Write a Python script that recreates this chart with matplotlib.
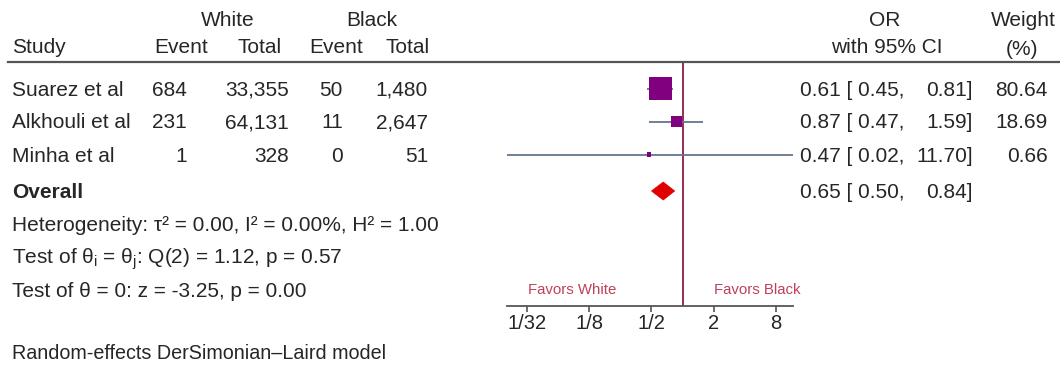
import numpy as np
import matplotlib
matplotlib.use("Agg")
import matplotlib.pyplot as plt
from matplotlib.patches import Polygon
from matplotlib.lines import Line2D
from matplotlib.ticker import NullLocator, FixedLocator, FixedFormatter

plt.rcParams['font.family'] = ['Liberation Sans', 'DejaVu Sans']
plt.rcParams['mathtext.fontset'] = 'custom'
plt.rcParams['mathtext.rm'] = 'Liberation Sans'
plt.rcParams['mathtext.it'] = 'Liberation Sans'
plt.rcParams['mathtext.bf'] = 'Liberation Sans:bold'

# ---------------- data ----------------
studies = ["Suarez et al", "Alkhouli et al", "Minha et al"]
white_event = [684, 231, 1]
white_total = [33355, 64131, 328]
black_event = [50, 11, 0]
black_total = [1480, 2647, 51]
or_est = [0.61, 0.87, 0.47]
ci_low = [0.45, 0.47, 0.02]
ci_high = [0.81, 1.59, 11.70]
weights = [80.64, 18.69, 0.66]
overall_est, overall_low, overall_high = 0.65, 0.50, 0.84
tick_values = [1/32, 1/8, 1/2, 2, 8]
tick_labels = ["1/32", "1/8", "1/2", "2", "8"]
het_text = "Heterogeneity: \u03c4\u00b2 = 0.00, I\u00b2 = 0.00%, H\u00b2 = 1.00"
q_text = r"Test of $\theta_\mathrm{i}$ = $\theta_\mathrm{j}$: Q(2) = 1.12, p = 0.57"
z_text = "Test of \u03b8 = 0: z = -3.25, p = 0.00"
footnote = "Random-effects DerSimonian\u2013Laird model"

# ---------------- layout ----------------
W, H = 1060, 367
fig = plt.figure(figsize=(W / 100, H / 100), dpi=100)
TXT = "#262626"
FS = 15

def fx(px):
    return px / W

def fy(py):
    return 1 - py / H

def put(px, py, s, ha="left", **kw):
    fig.text(fx(px), fy(py), s, ha=ha, va="baseline", color=kw.pop("color", TXT),
             fontsize=kw.pop("fontsize", FS), **kw)

# forest axes geometry: pixel position of OR=1 and px per log2 unit
X_NULL = 682.5
PX_PER = 31.04
lo_lim = min(ci_low)
hi_lim = max(ci_high)
ax_left = X_NULL + PX_PER * np.log2(lo_lim)
ax_right = X_NULL + PX_PER * np.log2(hi_lim)
TOP, BOT = 61.5, 306
ax = fig.add_axes([fx(ax_left), fy(BOT), (ax_right - ax_left) / W, (BOT - TOP) / H])
ax.set_xscale("log", base=2)
ax.set_xlim(lo_lim, hi_lim)
ax.set_ylim(BOT, TOP)
ax.patch.set_alpha(0)
for s in ["top", "left", "right"]:
    ax.spines[s].set_visible(False)
ax.spines["bottom"].set_color("#555555")
ax.spines["bottom"].set_linewidth(1.3)
ax.xaxis.set_major_locator(FixedLocator(tick_values))
ax.xaxis.set_major_formatter(FixedFormatter(tick_labels))
ax.xaxis.set_minor_locator(NullLocator())
ax.tick_params(axis="x", direction="out", length=4, width=1.2, color="#555555",
               labelsize=14.5, labelcolor=TXT, pad=2)
ax.set_yticks([])

row_center = [88.5, 121.5, 154.5]
overall_center = 191
baseline_off = 7

# null line
ax.axvline(1, color="#8E1B45", lw=1.3, zorder=1)

# CIs and squares
for yc, e, l, h, w in zip(row_center, or_est, ci_low, ci_high, weights):
    ax.plot([l, h], [yc, yc], color="#63758C", lw=1.3, zorder=2, clip_on=False,
            solid_capstyle="butt")
    ax.scatter([e], [yc], s=max(w * 3.3, 9), marker="s", color="#800080", edgecolors="none",
               zorder=3, clip_on=False)

# overall diamond
dh = 9
diamond = Polygon([[overall_low, overall_center], [overall_est, overall_center - dh],
                   [overall_high, overall_center], [overall_est, overall_center + dh]],
                  closed=True, facecolor="#E00000", edgecolor="#E00000", lw=0.5, zorder=3)
ax.add_patch(diamond)

# favors labels
fig.text(fx(572), fy(290), "Favors White", ha="center", va="center", color="#C0405A", fontsize=10.8)
fig.text(fx(757), fy(290), "Favors Black", ha="center", va="center", color="#C0405A", fontsize=10.8)

# header
put(228, 26, "White", ha="center")
put(372, 26, "Black", ha="center")
put(885, 26, "OR", ha="center")
put(1023, 26, "Weight", ha="center")
put(12, 53, "Study")
put(208, 53, "Event", ha="right")
put(282, 53, "Total", ha="right")
put(363, 53, "Event", ha="right")
put(430, 53, "Total", ha="right")
put(887, 53, "with 95% CI", ha="center")
put(1022, 55, "(%)", ha="center")
fig.add_artist(Line2D([fx(8), fx(1060)], [fy(61.5), fy(61.5)], color="#555555", lw=1.6))

# study rows
for i, yc in enumerate(row_center):
    b = yc + baseline_off
    put(12, b, studies[i])
    put(187, b, f"{white_event[i]:,}", ha="right")
    put(289, b, f"{white_total[i]:,}", ha="right")
    put(343, b, f"{black_event[i]:,}", ha="right")
    put(428, b, f"{black_total[i]:,}", ha="right")
    put(800, b, f"{or_est[i]:.2f} [ {ci_low[i]:.2f},")
    put(973, b, f"{ci_high[i]:.2f}]", ha="right")
    put(1048, b, f"{weights[i]:.2f}", ha="right")

# overall row
b = overall_center + baseline_off
put(12, b, "Overall", fontweight="bold")
put(800, b, f"{overall_est:.2f} [ {overall_low:.2f},")
put(973, b, f"{overall_high:.2f}]", ha="right")

put(12, 231, het_text)
put(12, 264, q_text)
put(12, 297, z_text)
put(12, 359, footnote, fontsize=14.2)

fig.savefig("out.png", dpi=100)
